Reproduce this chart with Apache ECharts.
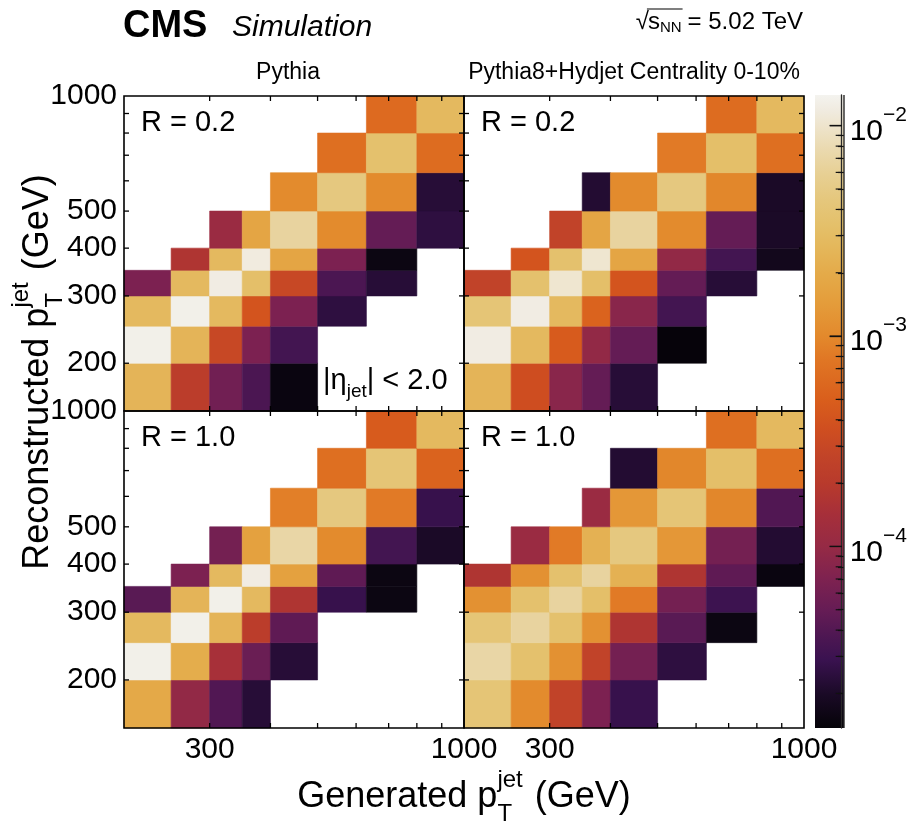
<!DOCTYPE html>
<html><head><meta charset="utf-8">
<script src="https://cdn.jsdelivr.net/npm/echarts@6/dist/echarts.min.js"></script>
<style>html,body{margin:0;padding:0;background:#fff}#c{width:910px;height:830px}</style>
</head><body><div id="c"></div>
<script>
// ---------------- DATA ----------------
const genEdges  = [200, 250, 300, 350, 400, 500, 630, 800, 1000];          // generated pT bin edges (GeV)
const recoEdges = [150, 200, 250, 300, 350, 400, 500, 630, 800, 1000];     // reconstructed pT bin edges (GeV)

// rows: reco bins (low -> high), columns: gen bins (low -> high)
const pythiaR02 = [
  [0.0025, 2.2e-4, 5.9e-5, 3.6e-5, 1.5e-5, null, null, null],
  [0.0131, 0.0025, 3.0e-4, 6.8e-5, 3.3e-5, null, null, null],
  [0.0028, 0.0131, 0.0028, 4.1e-4, 6.8e-5, 2.5e-5, null, null],
  [6.8e-5, 0.0028, 0.0122, 0.0033, 3.0e-4, 3.6e-5, 2.3e-5, null],
  [null, 1.7e-4, 0.0028, 0.0118, 0.00175, 6.8e-5, 1.55e-5, null],
  [null, null, 1.1e-4, 0.00175, 0.0066, 0.00104, 4.9e-5, 2.5e-5],
  [null, null, null, null, 0.00104, 0.0046, 0.00104, 2.3e-5],
  [null, null, null, null, null, 6.7e-4, 0.0035, 6.4e-4],
  [null, null, null, null, null, null, 6.2e-4, 0.0028]
];
const hydjetR02 = [
  [0.0025, 3.5e-4, 8.3e-5, 4.9e-5, 2.3e-5, null, null, null],
  [0.0122, 0.0028, 4.7e-4, 9.5e-5, 4.9e-5, 1.4e-5, null, null],
  [0.0040, 0.0122, 0.0028, 5.4e-4, 8.3e-5, 3.3e-5, null, null],
  [2.6e-4, 0.0035, 0.0103, 0.0033, 4.1e-4, 4.9e-5, 2.3e-5, null],
  [null, 4.1e-4, 0.0035, 0.0103, 0.00175, 9.5e-5, 3.3e-5, 1.75e-5],
  [null, null, 2.6e-4, 0.00175, 0.0066, 0.00104, 4.9e-5, 2.0e-5],
  [null, null, null, 2.2e-5, 0.00104, 0.0046, 9.7e-4, 2.0e-5],
  [null, null, null, null, null, 8.2e-4, 0.0033, 6.7e-4],
  [null, null, null, null, null, null, 6.4e-4, 0.0028]
];
const pythiaR10 = [
  [0.0019, 9.5e-5, 3.9e-5, 2.3e-5, null, null, null, null],
  [0.0131, 0.0021, 1.45e-4, 5.3e-5, 2.3e-5, null, null, null],
  [0.0028, 0.0131, 0.0025, 2.2e-4, 4.6e-5, null, null, null],
  [4.3e-5, 0.0025, 0.0131, 0.0028, 1.7e-4, 2.8e-5, 1.55e-5, null],
  [null, 6.8e-5, 0.0028, 0.0122, 0.0016, 4.6e-5, 1.55e-5, null],
  [null, null, 6.1e-5, 0.0016, 0.0071, 0.00104, 3.3e-5, 2.0e-5],
  [null, null, null, null, 8.8e-4, 0.0046, 8.2e-4, 2.8e-5],
  [null, null, null, null, null, 6.7e-4, 0.0040, 5.4e-4],
  [null, null, null, null, null, null, 4.7e-4, 0.0028]
];
const hydjetR10 = [
  [0.0040, 0.00104, 2.6e-4, 6.8e-5, 2.8e-5, null, null, null],
  [0.0071, 0.0035, 0.00115, 2.6e-4, 6.1e-5, 2.5e-5, null, null],
  [0.0040, 0.0066, 0.0035, 0.00115, 1.7e-4, 4.3e-5, 1.55e-5, null],
  [0.00115, 0.0035, 0.0066, 0.0033, 8.2e-4, 6.1e-5, 3.0e-5, null],
  [1.7e-4, 0.00115, 0.0035, 0.0066, 0.0023, 1.7e-4, 4.6e-5, 1.5e-5],
  [null, 1.1e-4, 8.2e-4, 0.0023, 0.0046, 0.0013, 6.1e-5, 2.2e-5],
  [null, null, null, 1.1e-4, 0.0013, 0.0040, 9.7e-4, 3.9e-5],
  [null, null, null, null, 2.2e-5, 9.7e-4, 0.0033, 6.7e-4],
  [null, null, null, null, null, null, 6.7e-4, 0.0028]
];

const X_TICKS  = [300, 400, 500, 600, 700, 800, 900];
const X_LABELS = [300, 1000];
const Y_TICKS  = [200, 300, 400, 500, 600, 700, 800, 900];
const Y_LABELS = [200, 300, 400, 500, 1000];
const Z_RANGE  = [1.37e-5, 0.0140];
const Z_MAJOR  = [1e-4, 1e-3, 1e-2];
const Z_MINOR  = [2e-5, 3e-5, 4e-5, 5e-5, 6e-5, 7e-5, 8e-5, 9e-5,
                  2e-4, 3e-4, 4e-4, 5e-4, 6e-4, 7e-4, 8e-4, 9e-4,
                  2e-3, 3e-3, 4e-3, 5e-3, 6e-3, 7e-3, 8e-3, 9e-3];

// ---------------- STYLE ----------------
const FONT = '"Liberation Sans", Arial, Helvetica, sans-serif';
// colour palette, offset 0 = top (high), 1 = bottom (low)
const CBAR_STOPS = [
  [0.000,'#f4f3ef'],[0.024,'#f0ebe0'],[0.049,'#eee4cc'],[0.087,'#ead9ae'],[0.127,'#e7cf92'],
  [0.166,'#e5c77c'],[0.206,'#e4c06a'],[0.245,'#e4b659'],[0.280,'#e4ab4a'],[0.324,'#e49e3c'],
  [0.381,'#e3892c'],[0.419,'#e07624'],[0.482,'#d95e1c'],[0.529,'#cf4e20'],[0.569,'#c24428'],
  [0.614,'#b83a2c'],[0.663,'#a62f3a'],[0.714,'#952a45'],[0.764,'#7e2250'],[0.815,'#651c55'],
  [0.861,'#4a1652'],[0.892,'#3a1250'],[0.947,'#1a0a26'],[1.000,'#050308']
];
function hex2rgb(h){ return [1,3,5].map(i => parseInt(h.substr(i,2),16)); }
function paletteAt(f){
  for (let i = 0; i < CBAR_STOPS.length - 1; i++) {
    const [f0,c0] = CBAR_STOPS[i], [f1,c1] = CBAR_STOPS[i+1];
    if (f >= f0 && f <= f1) {
      const t = (f - f0) / (f1 - f0), a = hex2rgb(c0), b = hex2rgb(c1);
      return 'rgb(' + a.map((v,k) => Math.round(v + (b[k]-v)*t)).join(',') + ')';
    }
  }
  return CBAR_STOPS[CBAR_STOPS.length-1][1];
}
const vmColors = [];
for (let i = 0; i <= 100; i++) vmColors.push(paletteAt(1 - i/100));

function buildCells(m){
  const out = [];
  m.forEach((row, r) => row.forEach((v, c) => {
    if (v != null) out.push([genEdges[c], genEdges[c+1], recoEdges[r], recoEdges[r+1], Math.log10(v)]);
  }));
  return out;
}

const PANELS = [
  {data: pythiaR02, left: 124, top: 96,  height: 315, xl: false, yl: true,  label: 'R = 0.2'},
  {data: hydjetR02, left: 464, top: 96,  height: 315, xl: false, yl: false, label: 'R = 0.2'},
  {data: pythiaR10, left: 124, top: 411, height: 317, xl: true,  yl: true,  label: 'R = 1.0'},
  {data: hydjetR10, left: 464, top: 411, height: 317, xl: true,  yl: false, label: 'R = 1.0'}
];
const PW = 340;
const TICK = 5;
const CB = {left: 815, top: 95, width: 29, height: 633};

function bar(x, y, w, h, color){
  return {type: 'rect', z2: 50, shape: {x: x, y: y, width: w, height: h}, style: {fill: color || '#000', stroke: null}};
}

function xAx(g, pos, showLab){
  return {type: 'log', logBase: 10, gridIndex: g, position: pos, min: 200, max: 1000, z: 5,
    axisLine: {show: false}, axisTick: {show: false},
    axisLabel: {show: showLab, customValues: X_LABELS, fontSize: 30, fontFamily: FONT, color: '#000', margin: 7,
      formatter: v => String(Math.round(v))},
    splitLine: {show: false}, minorTick: {show: false}, minorSplitLine: {show: false}};
}
function yAx(g, pos, showLab){
  return {type: 'log', logBase: 10, gridIndex: g, position: pos, min: 150, max: 1000, z: 5,
    axisLine: {show: false}, axisTick: {show: false},
    axisLabel: {show: showLab, customValues: Y_LABELS, fontSize: 30, fontFamily: FONT, color: '#000', margin: 7,
      formatter: v => String(Math.round(v))},
    splitLine: {show: false}, minorTick: {show: false}, minorSplitLine: {show: false}};
}

const grids = [], xAxes = [], yAxes = [], series = [];
PANELS.forEach((p, g) => {
  grids.push({left: p.left, top: p.top, width: PW, height: p.height, containLabel: false});
  xAxes.push(xAx(g, 'bottom', p.xl), xAx(g, 'top', false));
  yAxes.push(yAx(g, 'left', p.yl), yAx(g, 'right', false));
});

// heat-map cells; the last item of each panel also carries the frame and inward ticks
PANELS.forEach((p, g) => {
  const cells = buildCells(p.data);
  const nCells = cells.length;
  series.push({
    type: 'custom', xAxisIndex: 2*g, yAxisIndex: 2*g, clip: false, z: 2,
    encode: {x: [0, 1], y: [2, 3]},
    data: cells,
    renderItem: (params, api) => {
      const p0 = api.coord([api.value(0), api.value(3)]);
      const p1 = api.coord([api.value(1), api.value(2)]);
      const col = api.visual('color');
      const cell = {type: 'rect', z2: 1, shape: {x: p0[0], y: p0[1], width: p1[0]-p0[0], height: p1[1]-p0[1]},
        style: {fill: col, stroke: col, lineWidth: 0.6}};
      if (params.dataIndex !== nCells - 1) return cell;
      const cs = params.coordSys;
      const kids = [cell];
      const tw2 = 1.3;
      X_TICKS.forEach(v => {
        const x = api.coord([v, recoEdges[0]])[0];
        kids.push(bar(x - tw2/2, cs.y + cs.height - TICK, tw2, TICK));
        kids.push(bar(x - tw2/2, cs.y, tw2, TICK));
      });
      Y_TICKS.forEach(v => {
        const y = api.coord([genEdges[0], v])[1];
        kids.push(bar(cs.x, y - tw2/2, TICK, tw2));
        kids.push(bar(cs.x + cs.width - TICK, y - tw2/2, TICK, tw2));
      });
      kids.push({type: 'rect', z2: 60, shape: {x: cs.x, y: cs.y, width: cs.width, height: cs.height},
        style: {fill: null, stroke: '#000', lineWidth: 1.6}});
      return {type: 'group', children: kids};
    }
  });
});

// colour bar: grid 4 (major ticks + labels), grid 5 (minor ticks); the bar itself is a graphic behind them
grids.push(Object.assign({}, CB), Object.assign({}, CB));
xAxes.push({type: 'value', gridIndex: 4, min: 0, max: 1, show: false});
xAxes.push({type: 'value', gridIndex: 5, min: 0, max: 1, show: false});
yAxes.push({type: 'log', logBase: 10, gridIndex: 4, position: 'right', min: Z_RANGE[0], max: Z_RANGE[1], z: 10,
  axisLine: {show: true, onZero: false, lineStyle: {color: '#2a2a2a', width: 1.3}},
  axisTick: {show: true, inside: true, length: 12, lineStyle: {color: '#111', width: 1.3}, customValues: Z_MAJOR},
  axisLabel: {show: true, customValues: Z_MAJOR, margin: 8, color: '#000',
    formatter: v => '{b|10}{s|\u2212' + Math.round(-Math.log10(v)) + '}',
    rich: {b: {fontSize: 30, fontFamily: FONT, color: '#000', lineHeight: 42, verticalAlign: 'bottom'},
           s: {fontSize: 21, fontFamily: FONT, color: '#000', lineHeight: 22, verticalAlign: 'top'}}},
  splitLine: {show: false}, minorTick: {show: false}});
yAxes.push({type: 'log', logBase: 10, gridIndex: 5, position: 'right', min: Z_RANGE[0], max: Z_RANGE[1], z: 10,
  axisLine: {show: false, onZero: false},
  axisTick: {show: true, inside: true, length: 6, lineStyle: {color: '#111', width: 1.2}, customValues: Z_MINOR},
  axisLabel: {show: false}, splitLine: {show: false}, minorTick: {show: false}});
// extra tick marks for the colour bar through a custom series (above the bar graphic)
series.push({
  type: 'custom', xAxisIndex: 8, yAxisIndex: 8, z: 12, silent: true, clip: false,
  encode: {x: 0, y: 1},
  data: Z_MAJOR.map(v => [1, v, 12]).concat(Z_MINOR.map(v => [1, v, 6])),
  renderItem: (params, api) => {
    const pt = api.coord([api.value(0), api.value(1)]);
    const len = api.value(2);
    return bar(pt[0] - len, pt[1] - 0.6, len, 1.2, '#111');
  }
});

// ---------------- TEXT ----------------
const mctx = document.createElement('canvas').getContext('2d');
function tw(text, font){ mctx.font = font; return mctx.measureText(text).width; }
function T(text, x, y, size, opts){
  opts = opts || {};
  const font = (opts.style || '') + ' ' + (opts.weight || 'normal') + ' ' + size + 'px ' + FONT;
  return {type: 'text', x: x, y: y, z: 20,
    style: {text: text, font: font, fill: '#000', align: opts.align || 'left', verticalAlign: 'middle'}};
}
const G = [];
// colour-bar gradient (layout element filling the colour-bar grid), behind its axes
G.push({type: 'rect', z: -5, silent: true,
  shape: {x: CB.left, y: CB.top, width: CB.width, height: CB.height},
  style: {fill: {type: 'linear', x: 0, y: 0, x2: 0, y2: 1,
    colorStops: CBAR_STOPS.map(([o, c]) => ({offset: o, color: c}))}}});
G.push({type: 'rect', z: 15, silent: true,
  shape: {x: CB.left + CB.width - 0.7, y: CB.top, width: 1.4, height: CB.height}, style: {fill: '#2a2a2a'}});
G.push(T('CMS', 123, 27, 38, {weight: 'bold'}));
G.push(T('Simulation', 232, 28, 30, {style: 'italic'}));
// sqrt(s_NN) = 5.02 TeV
(function(){
  const fM = 'normal normal 24px ' + FONT, fS = 'normal normal 15px ' + FONT;
  const xEnd = 803, y = 22;
  const w3 = tw('= 5.02 TeV', fM); const x3 = xEnd - w3;
  const wNN = tw('NN', fS); const xNN = x3 - 6 - wNN;
  const ws = tw('s', fM); const xs = xNN - ws;
  const wr = tw('\u221a', fM); const xr = xs - wr + 1;
  G.push(T('\u221a', xr, y, 24));
  G.push(T('s', xs, y, 24));
  G.push(T('NN', xNN, y + 6, 15));
  G.push(T('= 5.02 TeV', x3, y, 24));
  G.push({type: 'rect', z: 20, shape: {x: xs - 1, y: 8.4, width: wNN + ws + 2, height: 1.2}, style: {fill: '#000'}});
})();
G.push(T('Pythia', 288, 73, 23, {align: 'center'}));
G.push(T('Pythia8+Hydjet Centrality 0-10%', 634, 73, 23, {align: 'center'}));
PANELS.forEach(p => { G.push(T(p.label, p.left + 17, p.top + 27, 29)); });
// |eta_jet| < 2.0
(function(){
  const fM = 'normal normal 29px ' + FONT, fS = 'normal normal 19px ' + FONT;
  let x = 323; const y = 381;
  G.push(T('|\u03b7', x, y, 29)); x += tw('|\u03b7', fM);
  G.push(T('jet', x, y + 11, 19)); x += tw('jet', fS);
  G.push(T('| < 2.0', x, y, 29));
})();
// axis titles with p_T^jet
function ptTitle(pre, post, size, subSize){
  const fM = 'normal normal ' + size + 'px ' + FONT, fS = 'normal normal ' + subSize + 'px ' + FONT;
  const w1 = tw(pre, fM), wj = tw('jet', fS), wt = tw('T', fS), w2 = tw(post, fM);
  const total = w1 + Math.max(wj, wt) + 2 + w2;
  const kids = [
    T(pre, 0, 0, size), T('jet', w1, -17, subSize), T('T', w1, 17, subSize),
    T(post, w1 + Math.max(wj, wt) + 2, 0, size)
  ];
  return {total, kids};
}
(function(){
  const t = ptTitle('Generated p', ' (GeV)', 36, 24);
  G.push({type: 'group', x: 464 - t.total/2, y: 797, children: t.kids});
  const u = ptTitle('Reconstructed p', ' (GeV)', 36, 24);
  G.push({type: 'group', x: 38, y: 372 + u.total/2, rotation: Math.PI/2, children: u.kids});
})();

const option = {
  animation: false,
  backgroundColor: '#fff',
  textStyle: {fontFamily: FONT},
  grid: grids, xAxis: xAxes, yAxis: yAxes, series: series,
  visualMap: {type: 'continuous', show: false, dimension: 4, seriesIndex: [0, 1, 2, 3],
    min: Math.log10(Z_RANGE[0]), max: Math.log10(Z_RANGE[1]), inRange: {color: vmColors}},
  graphic: {elements: G}
};
const chart = echarts.init(document.getElementById('c'), null, {renderer: 'canvas', width: 910, height: 830});
chart.setOption(option);
</script></body></html>
